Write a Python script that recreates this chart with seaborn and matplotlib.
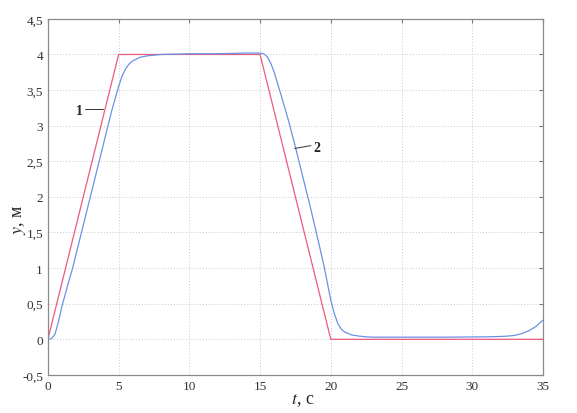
import numpy as np
import pandas as pd
import matplotlib
matplotlib.use("Agg")
import matplotlib.pyplot as plt
import seaborn as sns

# ------------------------------
# Data
# ------------------------------
# curve 1: reference trajectory
t_ref = [0, 5, 15, 20, 35]
y_ref = [0, 4, 4, 0, 0]

# curve 2: actual response
t_resp = [0, 0.25, 0.5, 0.75, 1.0, 1.25, 1.5, 1.75, 2, 2.5, 3, 3.5, 4, 4.5,
          5, 5.25, 5.5, 5.75, 6, 6.5, 7, 7.5, 8, 10, 12, 14, 15, 15.25, 15.5,
          15.75, 16, 16.5, 17, 17.5, 18, 18.5, 19, 19.5, 20, 20.25, 20.5,
          20.75, 21, 21.5, 22, 22.5, 23, 25, 28, 31, 32, 32.5, 33, 33.5, 34,
          34.5, 35]
y_resp = [0, 0.01, 0.07, 0.25, 0.47, 0.65, 0.83, 1.0, 1.2, 1.6, 2.0, 2.4,
          2.8, 3.2, 3.55, 3.7, 3.8, 3.87, 3.91, 3.96, 3.98, 3.99, 4.0, 4.01,
          4.01, 4.02, 4.02, 4.01, 3.97, 3.88, 3.75, 3.42, 3.08, 2.7, 2.3, 1.9,
          1.48, 1.05, 0.55, 0.36, 0.22, 0.14, 0.1, 0.06, 0.045, 0.035, 0.03,
          0.03, 0.03, 0.035, 0.04, 0.045, 0.055, 0.08, 0.12, 0.18, 0.27]

x_ticks = [0, 5, 10, 15, 20, 25, 30, 35]
y_ticks = [-0.5, 0, 0.5, 1, 1.5, 2, 2.5, 3, 3.5, 4, 4.5]

df_ref = pd.DataFrame({"t": t_ref, "y": y_ref})
df_resp = pd.DataFrame({"t": t_resp, "y": y_resp})

# ------------------------------
# Style
# ------------------------------
sns.set_style("white")
plt.rcParams["font.family"] = ["Liberation Serif", "DejaVu Serif"]
plt.rcParams["mathtext.fontset"] = "stix"

fig = plt.figure(figsize=(5.77, 4.14), dpi=100)
ax = fig.add_axes([0.083, 0.092, 0.858, 0.86])

sns.lineplot(data=df_ref, x="t", y="y", ax=ax, color="#ee5a7c", linewidth=0.9)
sns.lineplot(data=df_resp, x="t", y="y", ax=ax, color="#6b92e4", linewidth=0.9)

ax.set_xlim(0, 35)
ax.set_ylim(-0.5, 4.5)
ax.set_xticks(x_ticks)
ax.set_yticks(y_ticks)
ax.set_xticklabels([str(v) for v in x_ticks])
ax.set_yticklabels([("%g" % v).replace(".", ",") for v in y_ticks])
ax.tick_params(direction="in", length=3, color="#777777", labelsize=9.5,
               labelcolor="#333333", top=True, right=True)

ax.grid(True, linestyle=(0, (1, 2)), color="#c8c8c8", linewidth=0.7)
for s in ax.spines.values():
    s.set_color("#8a8a8a")
    s.set_linewidth(0.9)

ax.set_xlabel("")
ax.set_ylabel("")
fig.text(0.525, 0.033, r"$\it{t}$, с", ha="center", va="center", fontsize=13)
fig.text(0.034, 0.47, r"$\it{y}$, м", ha="center", va="center", fontsize=13,
         rotation=90)

# curve labels with leader lines
ax.plot([2.62, 3.9], [3.24, 3.24], color="#333333", linewidth=0.7)
ax.text(2.25, 3.22, "1", ha="center", va="center", fontsize=10,
        fontweight="bold")
ax.plot([17.45, 18.6], [2.68, 2.72], color="#333333", linewidth=0.7)
ax.text(19.0, 2.70, "2", ha="center", va="center", fontsize=10,
        fontweight="bold")

plt.savefig("out.png", dpi=100)
